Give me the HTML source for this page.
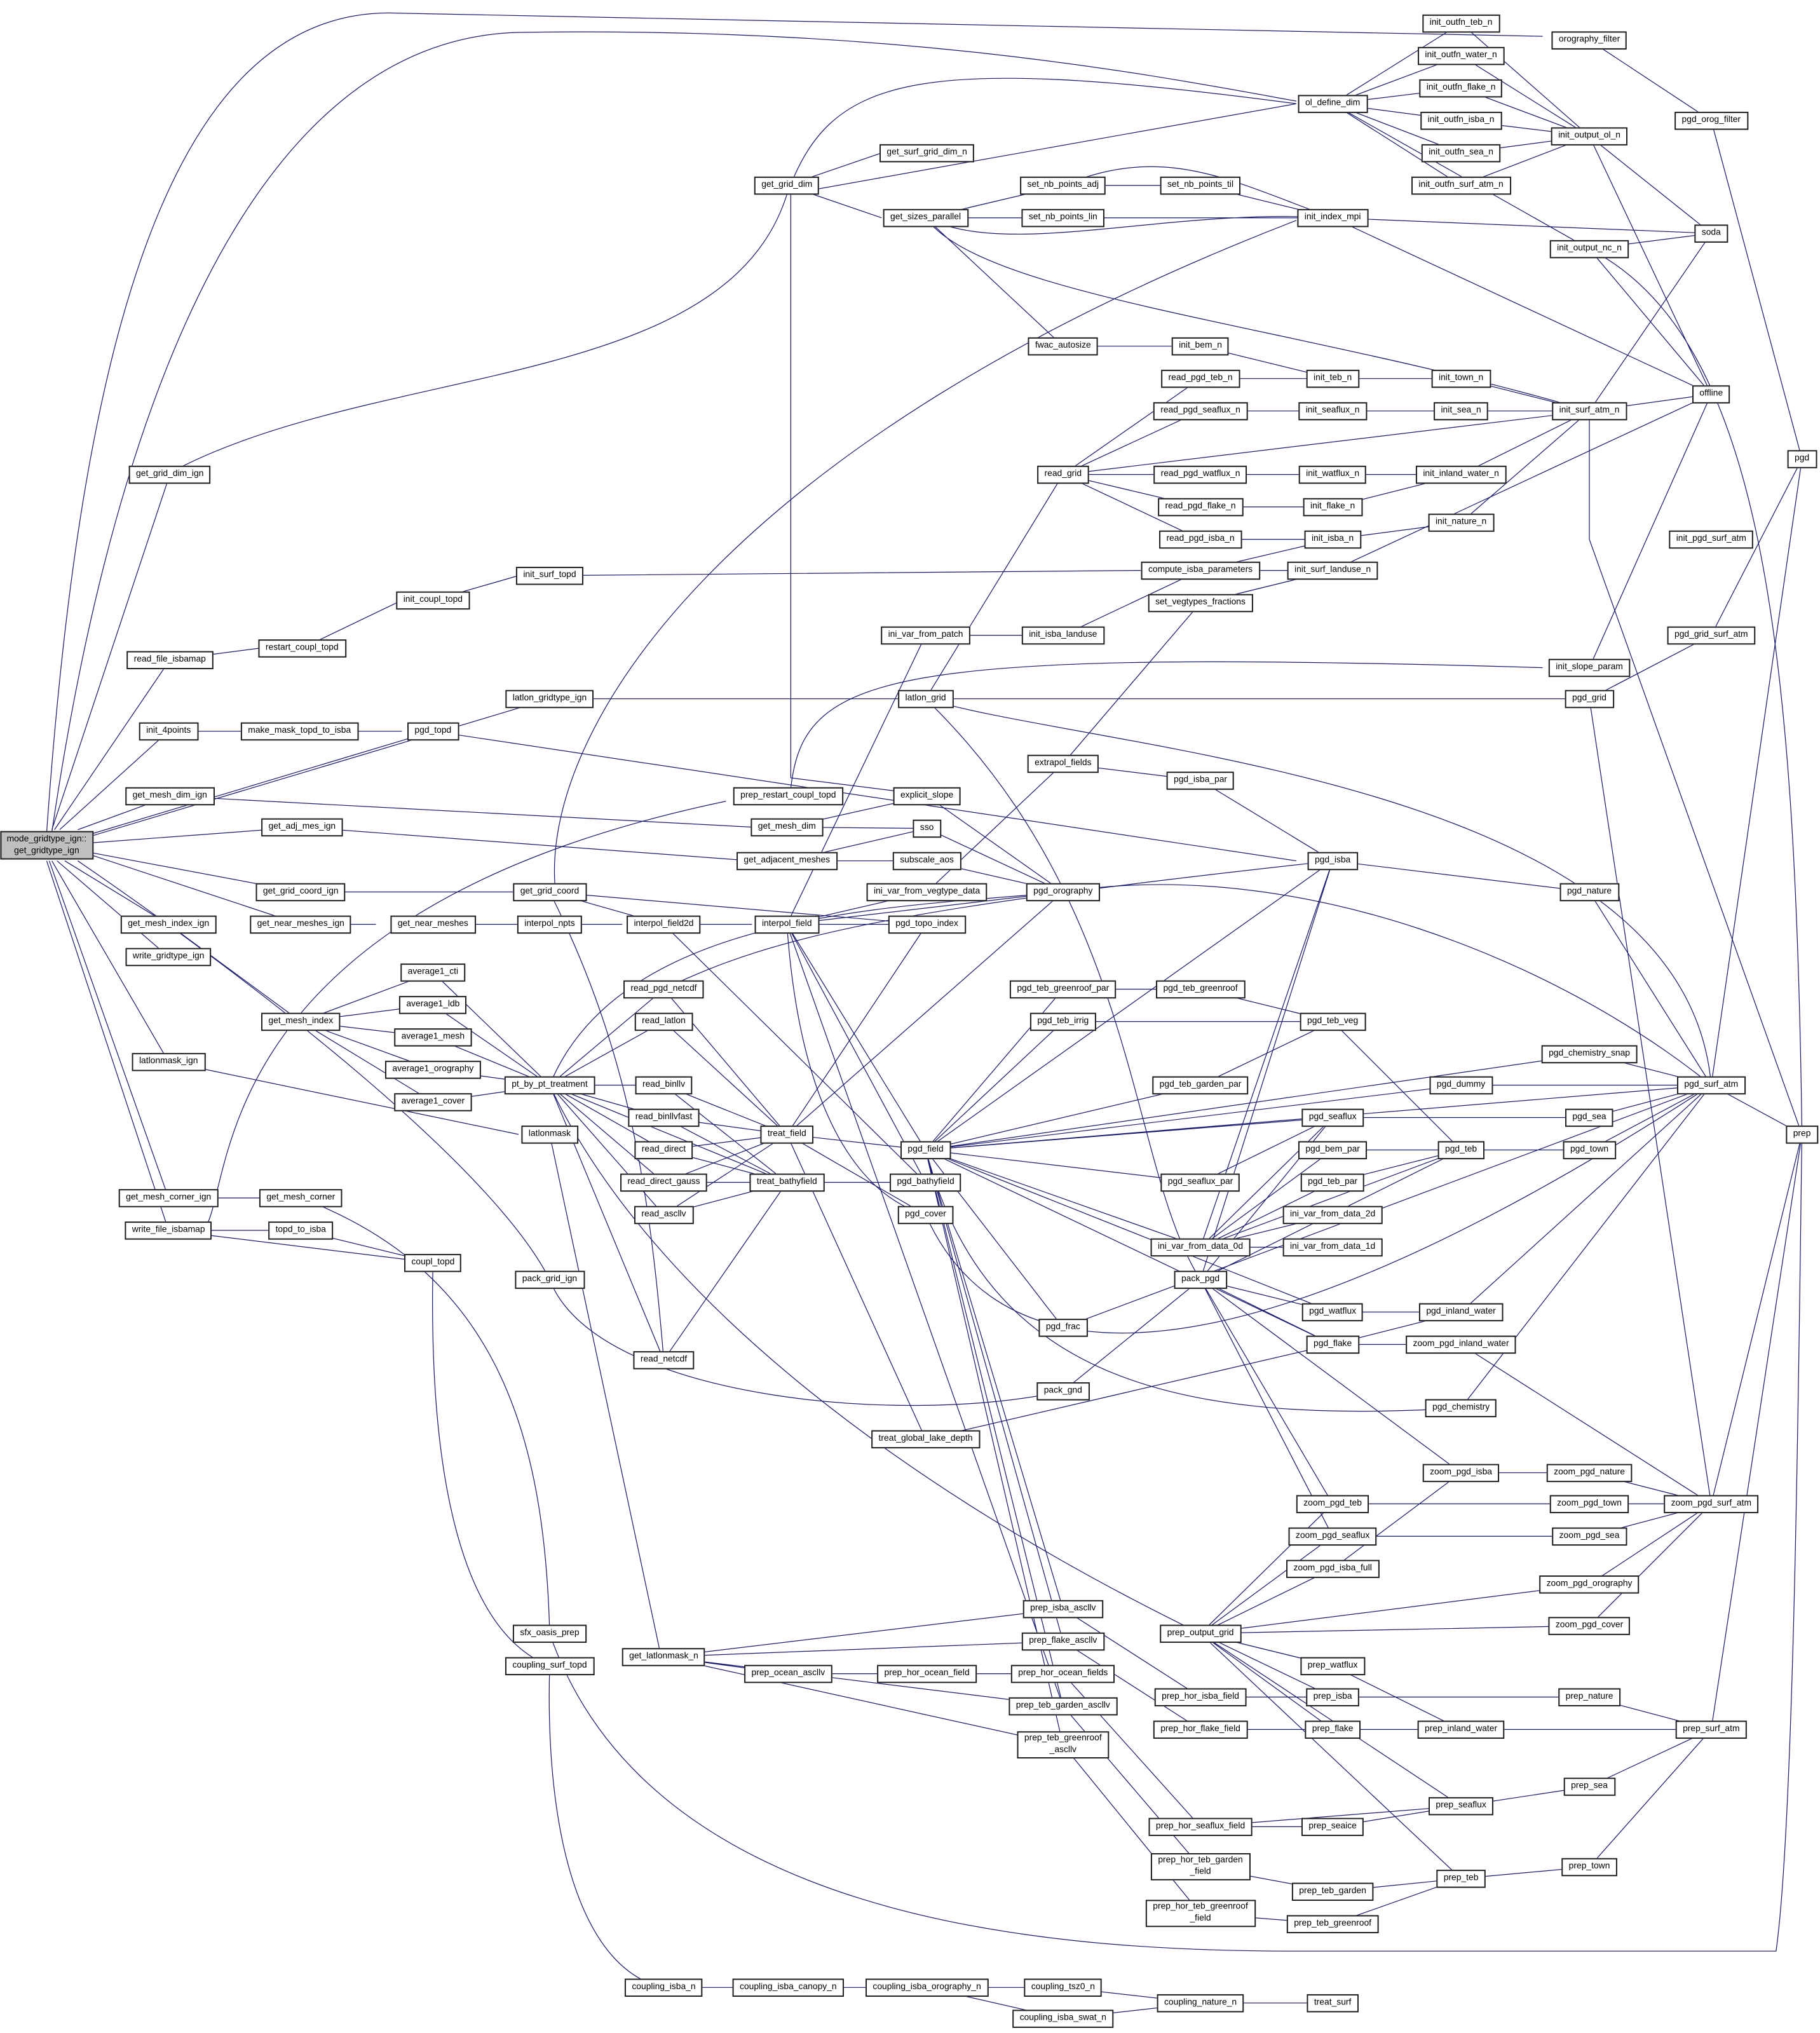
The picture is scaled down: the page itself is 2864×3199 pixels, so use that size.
<!DOCTYPE html>
<html><head><meta charset="utf-8">
<style>
html,body{margin:0;padding:0;background:#fff;}
#w{position:relative;width:2864px;height:3199px;overflow:hidden;}
#c{position:absolute;left:0;top:0;width:1404px;height:1568px;transform:scale(2.04,2.04);transform-origin:0 0;}
svg{position:absolute;left:0;top:0;}
.n{position:absolute;transform:translate(-50%,-50%);border:0.5px solid #222;background:#fff;font-family:"Liberation Sans",sans-serif;font-size:6.8px;line-height:11.6px;padding:0 4.6px;white-space:nowrap;color:#000;text-align:center;}
.r{background:#bfbfbf;line-height:9px;padding:1px 4px;}
.t{line-height:8.6px;padding:1px 4.6px;}
</style></head><body><div id="w"><div id="c">
<svg width="1404" height="1568" viewBox="0 0 1404 1568">
<g fill="none" stroke="#191970" stroke-width="0.6">
<path d="M131 366L40 640M131 509L42 640M130 564L46 640M131 614L60 640M233 638L72 650M232 688L72 658M232 713L72 660M130 713L50 664M130 738L44 664M130 819L40 664M130 924L38 664M130 949L36 664M424 539L70 645M334 564L68 644M424 987C380 900 200 760 60 664"/>
<path d="M36 642C60 300 120 10 300 10L1190 28"/>
<path d="M40 642C90 300 200 30 400 25C700 20 900 60 1000 78"/>
<path d="M140 360C300 280 560 300 607 150"/>
<path d="M607 150L1000 80M607 150C640 60 700 40 1000 80M607 143L680 118M607 143L680 168M610 150L610 600L690 610"/>
<path d="M428 682C420 560 560 340 1000 170"/>
<path d="M160 944C180 900 170 700 560 618M610 608C620 520 680 500 1190 515"/>
<path d="M131 509L200 500M233 500L310 463M334 463L400 444M424 444L880 440"/>
<path d="M130 564L190 564M231 564L310 564M334 564L1000 664"/>
<path d="M131 614L580 638M233 638L580 664M232 688L400 688M232 713L290 713M334 713L400 713M424 713L480 713M512 713L580 713"/>
<path d="M130 713L232 788M232 788L334 750M232 788L334 775M232 788L334 800M232 788L334 825M232 788L334 850M334 750L424 837M334 775L424 837M334 800L424 837M334 825L424 837M334 850L424 837"/>
<path d="M130 819L400 875M424 875L510 1278M130 924L232 924M232 924C380 980 420 1100 424 1260M130 949L232 949M232 949L334 974M130 949L334 974M334 974C330 1150 360 1260 424 1285M424 1285C420 1420 450 1520 512 1533"/>
<path d="M512 1533L608 1533M608 1533L715 1533M715 1533L820 1533M715 1533L820 1557M820 1533L926 1545M820 1557L926 1545M926 1545L1028 1545"/>
<path d="M424 987C460 1080 700 1100 820 1073M424 1260C500 1480 800 1505 1000 1505L1370 1505C1385 1400 1388 1000 1390 875"/>
<path d="M424 837L512 763M424 837L512 788M424 837L512 837M424 837L512 862M424 837L512 887M424 837L512 912M424 837L512 937M424 837L512 1049M424 837L607 912M424 837C500 1000 700 1150 926 1260M424 837C480 700 700 700 820 688"/>
<path d="M424 688L512 713M424 688L715 713M424 688C480 800 500 900 512 1049M512 713L714 912"/>
<path d="M607 713L715 688M607 713L715 713M607 713L714 490M607 713L714 887M607 713L820 688M607 713L714 912M607 713C620 900 690 930 714 937"/>
<path d="M512 763L607 875M512 788L607 875M512 837L607 875M512 862L607 875M512 887L607 875M512 912L607 875M512 937L607 875M512 1049L607 912M512 837L607 912M512 862L607 912M512 887L607 912M512 912L607 912M512 937L607 912"/>
<path d="M607 875L714 887M607 875L715 713M607 875L820 688M607 875L714 937M607 875L714 1110M607 912L714 912M512 763C600 720 700 700 1028 664"/>
<path d="M714 168L820 143M714 168L820 168M714 168L820 267M714 168C760 230 1000 250 1226 317M714 168C780 200 900 160 1028 168M820 143L926 143M820 143C900 110 950 140 1028 168M820 168L1028 168M926 143L1028 168M1028 168L1320 180M1028 168L1320 304"/>
<path d="M820 267L926 267M926 267L1028 292M1028 292L1127 292M1127 292L1226 317"/>
<path d="M820 366L926 292M820 366L926 317M820 366L926 366M820 366L926 391M820 366L926 416M820 366L1226 317M926 292L1028 292M926 317L1028 317M1028 317L1127 317M1127 317L1226 317M926 366L1028 366M1028 366L1127 366M1127 366L1226 317M926 391L1028 391M1028 391L1127 366M926 416L1028 416M1028 416L1127 403M1127 403L1226 317"/>
<path d="M926 440L1028 416M926 440L1028 440M926 465L1028 440M1028 440L1320 304M1226 317L1320 304M1226 317L1320 180M1226 317L1226 416M1226 416L1390 875"/>
<path d="M1028 80L1127 18M1028 80L1127 43M1028 80L1127 68M1028 80L1127 93M1028 80L1127 118M1028 80L1127 143M1028 80L1226 192M1127 18L1226 105M1127 43L1226 105M1127 68L1226 105M1127 93L1226 105M1127 118L1226 105M1127 143L1226 105M1226 105L1320 180M1226 105L1320 304M1226 192L1320 180M1226 192L1320 304M1226 192C1360 260 1385 500 1390 875M1226 31L1320 93M1320 93L1390 354"/>
<path d="M714 539L424 539M714 539L820 366M714 539L1226 539M714 539C850 580 1300 600 1320 837M714 539C880 700 870 900 926 987M1226 539L1320 490M1320 490L1390 354M1226 539L1320 1160M1226 515L1320 304"/>
<path d="M714 490L820 490M820 490L926 440M820 589L926 465M820 589L926 602M926 602L1028 664M820 589L715 688M1028 664L1226 688M1226 688L1320 837M1028 664L926 987"/>
<path d="M820 688L715 614M820 688L715 639M820 688L715 664M820 688C1000 660 1200 740 1320 837M715 614L607 638M715 639L607 638M715 639L607 664M715 664L607 664"/>
<path d="M714 887L820 763M714 887L820 788M714 887L926 837M714 887L926 912M714 887L1127 837M714 887L1226 813M714 887L926 962M714 887L820 1024M714 887L1028 1037M714 887C760 1060 900 1100 1127 1086M714 887L1028 664M714 887L1028 862M714 887L1028 1012M714 887L1320 837"/>
<path d="M820 763L926 763M926 763L1028 788M820 788L1028 788M926 837L1028 788M1028 788L1127 887M1127 837L1320 837M1226 813L1320 837M1028 862L1226 862M1226 862L1320 837M1028 887L1127 887M1028 912L1127 887M1127 887L1226 887M1226 887L1320 837"/>
<path d="M926 962L1028 862M926 962L1028 887M926 962L1028 912M926 962L1028 937M926 962L1028 962M926 962L1028 664M926 962L1127 887M926 912L1028 862"/>
<path d="M926 987L1028 862M926 987L1028 1012M926 987L1028 1037M926 987L1127 887M926 987L1028 1160M926 987L1028 1185M926 987L1127 1136M926 987L820 1073M820 1024L1320 837M1028 1012L1127 1012M1028 1037L1127 1012M1028 1037L1127 1037M1127 1012L1320 837M1127 1037L1320 1160M714 1110L1028 1037M1127 1086L1320 837M714 937C760 1040 900 1110 1320 837"/>
<path d="M1028 1160L1226 1160M1226 1160L1320 1160M1028 1185L1226 1185M1226 1185L1320 1160M1127 1136L1226 1136M1226 1136L1320 1160M1028 1210L1127 1136M1226 1222L1320 1160M1226 1254L1320 1160"/>
<path d="M926 1260L1028 1160M926 1260L1028 1185M926 1260L1028 1210M926 1260L1226 1222M926 1260L1226 1254M926 1260L1028 1285M926 1260L1028 1309M926 1260L1028 1334M926 1260L1127 1393M926 1260L1127 1449M926 1260L1028 1160"/>
<path d="M512 1278L820 1241M512 1278L820 1266M512 1278L608 1291M512 1278L820 1316M512 1278L820 1346M608 1291L715 1291M715 1291L820 1291M820 1291L926 1409M820 1241L926 1309M926 1309L1028 1309M1028 1309L1226 1309M1226 1309L1320 1334M820 1266L926 1334M926 1334L1028 1334M1028 1334L1127 1334M1028 1285L1127 1334M1127 1334L1320 1334"/>
<path d="M926 1409L1028 1409M926 1409L1127 1393M1028 1409L1127 1393M1127 1393L1226 1378M1226 1378L1320 1334M820 1316L926 1440M926 1440L1028 1459M1028 1459L1127 1449M1127 1449L1226 1440M1226 1440L1320 1334M820 1346L926 1476M926 1476L1028 1484M1028 1484L1127 1449M1320 1334L1390 875M1320 837L1390 354M1320 1160L1390 875M1320 837L1390 875"/>
<path d="M714 887L820 1241M714 887L820 1266M714 887L820 1316M714 887L820 1346M607 713L820 1316"/>
</g>
</svg>
<div class="n r" style="left:36px;top:652px">mode_gridtype_ign::<br>get_gridtype_ign</div>
<div class="n" style="left:131px;top:366px">get_grid_dim_ign</div>
<div class="n" style="left:131px;top:509px">read_file_isbamap</div>
<div class="n" style="left:130px;top:564px">init_4points</div>
<div class="n" style="left:131px;top:614px">get_mesh_dim_ign</div>
<div class="n" style="left:233px;top:638px">get_adj_mes_ign</div>
<div class="n" style="left:232px;top:688px">get_grid_coord_ign</div>
<div class="n" style="left:232px;top:713px">get_near_meshes_ign</div>
<div class="n" style="left:130px;top:713px">get_mesh_index_ign</div>
<div class="n" style="left:130px;top:738px">write_gridtype_ign</div>
<div class="n" style="left:130px;top:819px">latlonmask_ign</div>
<div class="n" style="left:130px;top:924px">get_mesh_corner_ign</div>
<div class="n" style="left:130px;top:949px">write_file_isbamap</div>
<div class="n" style="left:233px;top:500px">restart_coupl_topd</div>
<div class="n" style="left:231px;top:564px">make_mask_topd_to_isba</div>
<div class="n" style="left:232px;top:788px">get_mesh_index</div>
<div class="n" style="left:232px;top:924px">get_mesh_corner</div>
<div class="n" style="left:232px;top:949px">topd_to_isba</div>
<div class="n" style="left:334px;top:463px">init_coupl_topd</div>
<div class="n" style="left:334px;top:564px">pgd_topd</div>
<div class="n" style="left:334px;top:713px">get_near_meshes</div>
<div class="n" style="left:334px;top:750px">average1_cti</div>
<div class="n" style="left:334px;top:775px">average1_ldb</div>
<div class="n" style="left:334px;top:800px">average1_mesh</div>
<div class="n" style="left:334px;top:825px">average1_orography</div>
<div class="n" style="left:334px;top:850px">average1_cover</div>
<div class="n" style="left:334px;top:974px">coupl_topd</div>
<div class="n" style="left:424px;top:444px">init_surf_topd</div>
<div class="n" style="left:424px;top:539px">latlon_gridtype_ign</div>
<div class="n" style="left:424px;top:688px">get_grid_coord</div>
<div class="n" style="left:424px;top:713px">interpol_npts</div>
<div class="n" style="left:424px;top:837px">pt_by_pt_treatment</div>
<div class="n" style="left:424px;top:875px">latlonmask</div>
<div class="n" style="left:424px;top:987px">pack_grid_ign</div>
<div class="n" style="left:424px;top:1260px">sfx_oasis_prep</div>
<div class="n" style="left:424px;top:1285px">coupling_surf_topd</div>
<div class="n" style="left:512px;top:713px">interpol_field2d</div>
<div class="n" style="left:512px;top:763px">read_pgd_netcdf</div>
<div class="n" style="left:512px;top:788px">read_latlon</div>
<div class="n" style="left:512px;top:837px">read_binllv</div>
<div class="n" style="left:512px;top:862px">read_binllvfast</div>
<div class="n" style="left:512px;top:887px">read_direct</div>
<div class="n" style="left:512px;top:912px">read_direct_gauss</div>
<div class="n" style="left:512px;top:937px">read_ascllv</div>
<div class="n" style="left:512px;top:1049px">read_netcdf</div>
<div class="n" style="left:512px;top:1278px">get_latlonmask_n</div>
<div class="n" style="left:512px;top:1533px">coupling_isba_n</div>
<div class="n" style="left:607px;top:143px">get_grid_dim</div>
<div class="n" style="left:608px;top:614px">prep_restart_coupl_topd</div>
<div class="n" style="left:607px;top:638px">get_mesh_dim</div>
<div class="n" style="left:607px;top:664px">get_adjacent_meshes</div>
<div class="n" style="left:607px;top:713px">interpol_field</div>
<div class="n" style="left:607px;top:875px">treat_field</div>
<div class="n" style="left:607px;top:912px">treat_bathyfield</div>
<div class="n" style="left:608px;top:1291px">prep_ocean_ascllv</div>
<div class="n" style="left:608px;top:1533px">coupling_isba_canopy_n</div>
<div class="n" style="left:715px;top:118px">get_surf_grid_dim_n</div>
<div class="n" style="left:714px;top:168px">get_sizes_parallel</div>
<div class="n" style="left:714px;top:490px">ini_var_from_patch</div>
<div class="n" style="left:714px;top:539px">latlon_grid</div>
<div class="n" style="left:715px;top:614px">explicit_slope</div>
<div class="n" style="left:715px;top:639px">sso</div>
<div class="n" style="left:715px;top:664px">subscale_aos</div>
<div class="n" style="left:715px;top:688px">ini_var_from_vegtype_data</div>
<div class="n" style="left:715px;top:713px">pgd_topo_index</div>
<div class="n" style="left:714px;top:887px">pgd_field</div>
<div class="n" style="left:714px;top:912px">pgd_bathyfield</div>
<div class="n" style="left:714px;top:937px">pgd_cover</div>
<div class="n" style="left:714px;top:1110px">treat_global_lake_depth</div>
<div class="n" style="left:715px;top:1291px">prep_hor_ocean_field</div>
<div class="n" style="left:715px;top:1533px">coupling_isba_orography_n</div>
<div class="n" style="left:820px;top:143px">set_nb_points_adj</div>
<div class="n" style="left:820px;top:168px">set_nb_points_lin</div>
<div class="n" style="left:820px;top:267px">fwac_autosize</div>
<div class="n" style="left:820px;top:366px">read_grid</div>
<div class="n" style="left:820px;top:490px">init_isba_landuse</div>
<div class="n" style="left:820px;top:589px">extrapol_fields</div>
<div class="n" style="left:820px;top:688px">pgd_orography</div>
<div class="n" style="left:820px;top:763px">pgd_teb_greenroof_par</div>
<div class="n" style="left:820px;top:788px">pgd_teb_irrig</div>
<div class="n" style="left:820px;top:1024px">pgd_frac</div>
<div class="n" style="left:820px;top:1073px">pack_gnd</div>
<div class="n" style="left:820px;top:1241px">prep_isba_ascllv</div>
<div class="n" style="left:820px;top:1266px">prep_flake_ascllv</div>
<div class="n" style="left:820px;top:1291px">prep_hor_ocean_fields</div>
<div class="n" style="left:820px;top:1316px">prep_teb_garden_ascllv</div>
<div class="n t" style="left:820px;top:1346px">prep_teb_greenroof<br>_ascllv</div>
<div class="n" style="left:820px;top:1533px">coupling_tsz0_n</div>
<div class="n" style="left:820px;top:1557px">coupling_isba_swat_n</div>
<div class="n" style="left:926px;top:143px">set_nb_points_til</div>
<div class="n" style="left:926px;top:267px">init_bem_n</div>
<div class="n" style="left:926px;top:292px">read_pgd_teb_n</div>
<div class="n" style="left:926px;top:317px">read_pgd_seaflux_n</div>
<div class="n" style="left:926px;top:366px">read_pgd_watflux_n</div>
<div class="n" style="left:926px;top:391px">read_pgd_flake_n</div>
<div class="n" style="left:926px;top:416px">read_pgd_isba_n</div>
<div class="n" style="left:926px;top:440px">compute_isba_parameters</div>
<div class="n" style="left:926px;top:465px">set_vegtypes_fractions</div>
<div class="n" style="left:926px;top:602px">pgd_isba_par</div>
<div class="n" style="left:926px;top:763px">pgd_teb_greenroof</div>
<div class="n" style="left:926px;top:837px">pgd_teb_garden_par</div>
<div class="n" style="left:926px;top:912px">pgd_seaflux_par</div>
<div class="n" style="left:926px;top:962px">ini_var_from_data_0d</div>
<div class="n" style="left:926px;top:987px">pack_pgd</div>
<div class="n" style="left:926px;top:1260px">prep_output_grid</div>
<div class="n" style="left:926px;top:1309px">prep_hor_isba_field</div>
<div class="n" style="left:926px;top:1334px">prep_hor_flake_field</div>
<div class="n" style="left:926px;top:1409px">prep_hor_seaflux_field</div>
<div class="n t" style="left:926px;top:1440px">prep_hor_teb_garden<br>_field</div>
<div class="n t" style="left:926px;top:1476px">prep_hor_teb_greenroof<br>_field</div>
<div class="n" style="left:926px;top:1545px">coupling_nature_n</div>
<div class="n" style="left:1028px;top:80px">ol_define_dim</div>
<div class="n" style="left:1028px;top:168px">init_index_mpi</div>
<div class="n" style="left:1028px;top:292px">init_teb_n</div>
<div class="n" style="left:1028px;top:317px">init_seaflux_n</div>
<div class="n" style="left:1028px;top:366px">init_watflux_n</div>
<div class="n" style="left:1028px;top:391px">init_flake_n</div>
<div class="n" style="left:1028px;top:416px">init_isba_n</div>
<div class="n" style="left:1028px;top:440px">init_surf_landuse_n</div>
<div class="n" style="left:1028px;top:664px">pgd_isba</div>
<div class="n" style="left:1028px;top:788px">pgd_teb_veg</div>
<div class="n" style="left:1028px;top:862px">pgd_seaflux</div>
<div class="n" style="left:1028px;top:887px">pgd_bem_par</div>
<div class="n" style="left:1028px;top:912px">pgd_teb_par</div>
<div class="n" style="left:1028px;top:937px">ini_var_from_data_2d</div>
<div class="n" style="left:1028px;top:962px">ini_var_from_data_1d</div>
<div class="n" style="left:1028px;top:1012px">pgd_watflux</div>
<div class="n" style="left:1028px;top:1037px">pgd_flake</div>
<div class="n" style="left:1028px;top:1160px">zoom_pgd_teb</div>
<div class="n" style="left:1028px;top:1185px">zoom_pgd_seaflux</div>
<div class="n" style="left:1028px;top:1210px">zoom_pgd_isba_full</div>
<div class="n" style="left:1028px;top:1285px">prep_watflux</div>
<div class="n" style="left:1028px;top:1309px">prep_isba</div>
<div class="n" style="left:1028px;top:1334px">prep_flake</div>
<div class="n" style="left:1028px;top:1409px">prep_seaice</div>
<div class="n" style="left:1028px;top:1459px">prep_teb_garden</div>
<div class="n" style="left:1028px;top:1484px">prep_teb_greenroof</div>
<div class="n" style="left:1028px;top:1545px">treat_surf</div>
<div class="n" style="left:1127px;top:18px">init_outfn_teb_n</div>
<div class="n" style="left:1127px;top:43px">init_outfn_water_n</div>
<div class="n" style="left:1127px;top:68px">init_outfn_flake_n</div>
<div class="n" style="left:1127px;top:93px">init_outfn_isba_n</div>
<div class="n" style="left:1127px;top:118px">init_outfn_sea_n</div>
<div class="n" style="left:1127px;top:143px">init_outfn_surf_atm_n</div>
<div class="n" style="left:1127px;top:292px">init_town_n</div>
<div class="n" style="left:1127px;top:317px">init_sea_n</div>
<div class="n" style="left:1127px;top:366px">init_inland_water_n</div>
<div class="n" style="left:1127px;top:403px">init_nature_n</div>
<div class="n" style="left:1127px;top:837px">pgd_dummy</div>
<div class="n" style="left:1127px;top:887px">pgd_teb</div>
<div class="n" style="left:1127px;top:1012px">pgd_inland_water</div>
<div class="n" style="left:1127px;top:1037px">zoom_pgd_inland_water</div>
<div class="n" style="left:1127px;top:1086px">pgd_chemistry</div>
<div class="n" style="left:1127px;top:1136px">zoom_pgd_isba</div>
<div class="n" style="left:1127px;top:1334px">prep_inland_water</div>
<div class="n" style="left:1127px;top:1393px">prep_seaflux</div>
<div class="n" style="left:1127px;top:1449px">prep_teb</div>
<div class="n" style="left:1226px;top:31px">orography_filter</div>
<div class="n" style="left:1226px;top:105px">init_output_ol_n</div>
<div class="n" style="left:1226px;top:192px">init_output_nc_n</div>
<div class="n" style="left:1226px;top:317px">init_surf_atm_n</div>
<div class="n" style="left:1320px;top:416px">init_pgd_surf_atm</div>
<div class="n" style="left:1226px;top:515px">init_slope_param</div>
<div class="n" style="left:1226px;top:539px">pgd_grid</div>
<div class="n" style="left:1226px;top:688px">pgd_nature</div>
<div class="n" style="left:1226px;top:813px">pgd_chemistry_snap</div>
<div class="n" style="left:1226px;top:862px">pgd_sea</div>
<div class="n" style="left:1226px;top:887px">pgd_town</div>
<div class="n" style="left:1226px;top:1136px">zoom_pgd_nature</div>
<div class="n" style="left:1226px;top:1160px">zoom_pgd_town</div>
<div class="n" style="left:1226px;top:1185px">zoom_pgd_sea</div>
<div class="n" style="left:1226px;top:1222px">zoom_pgd_orography</div>
<div class="n" style="left:1226px;top:1254px">zoom_pgd_cover</div>
<div class="n" style="left:1226px;top:1309px">prep_nature</div>
<div class="n" style="left:1226px;top:1378px">prep_sea</div>
<div class="n" style="left:1226px;top:1440px">prep_town</div>
<div class="n" style="left:1320px;top:93px">pgd_orog_filter</div>
<div class="n" style="left:1320px;top:180px">soda</div>
<div class="n" style="left:1320px;top:304px">offline</div>
<div class="n" style="left:1320px;top:490px">pgd_grid_surf_atm</div>
<div class="n" style="left:1320px;top:837px">pgd_surf_atm</div>
<div class="n" style="left:1320px;top:1160px">zoom_pgd_surf_atm</div>
<div class="n" style="left:1320px;top:1334px">prep_surf_atm</div>
<div class="n" style="left:1390px;top:354px">pgd</div>
<div class="n" style="left:1390px;top:875px">prep</div>
</div></div></body></html>
